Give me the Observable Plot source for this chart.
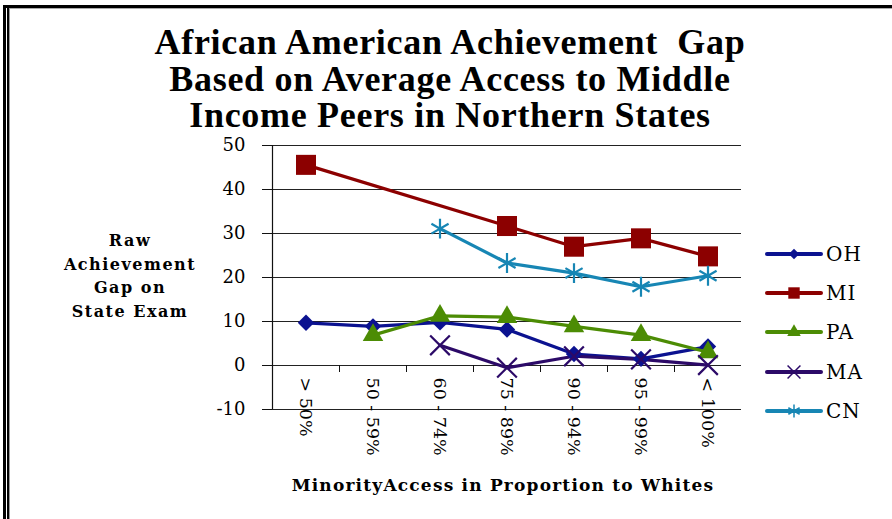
<!DOCTYPE html>
<html><head><meta charset="utf-8">
<script src="https://cdn.jsdelivr.net/npm/d3@7"></script>
<script src="https://cdn.jsdelivr.net/npm/@observablehq/plot@0.6"></script>
<style>
html,body{margin:0;padding:0;background:#fff;}
#wrap{position:relative;width:892px;height:519px;overflow:hidden;background:#fff;}
#wrap > svg{position:absolute;left:0;top:0;}
.b1{position:absolute;left:3px;top:5px;right:0;bottom:0;border-left:3px solid #000;border-top:3px solid #000;}
.b2{position:absolute;left:7px;top:8px;right:0;bottom:0;border-left:2px solid #000;}
.b3{position:absolute;left:9px;top:8px;right:0;bottom:0;border-left:1px solid #999;border-top:1px solid #aaa;}
#title{position:absolute;left:0;width:900px;top:24px;text-align:center;font-family:"Liberation Serif",serif;font-weight:bold;font-size:36px;line-height:36.5px;letter-spacing:0.7px;color:#000;}
#ylab{position:absolute;left:30px;width:200px;top:229px;text-align:center;font-family:"DejaVu Serif",serif;font-weight:bold;font-size:16px;line-height:23.5px;color:#000;letter-spacing:1.5px;}
#xlab{position:absolute;left:203px;width:600px;top:473px;text-align:center;font-family:"DejaVu Serif",serif;font-weight:bold;font-size:17px;line-height:24px;color:#000;letter-spacing:1.2px;}
#legend{position:absolute;left:765px;top:242px;font-family:"DejaVu Serif",serif;font-size:20px;letter-spacing:1px;color:#000;}
#legend .row{height:39.2px;display:flex;align-items:flex-start;}
#legend svg{display:block;}
#legend span{margin-left:3px;line-height:24px;}
</style></head><body>
<div id="wrap">
  <div class="b1"></div><div class="b2"></div><div class="b3"></div>
  <div id="title">African American Achievement&nbsp; Gap<br>Based on Average Access to Middle<br>Income Peers in Northern States</div>
  <div id="ylab">Raw<br>Achievement<br>Gap on<br>State Exam</div>
  <div id="xlab">MinorityAccess in Proportion to Whites</div>
  <div id="legend"></div>
</div>
<script>
// ---- data ----
const categories = ["> 50%", "50 - 59%", "60 - 74%", "75 - 89%", "90 - 94%", "95 - 99%", "< 100%"];
const states = ["OH", "MI", "PA", "MA", "CN"];
const OH = [9.7, 8.9, 9.8, 8.2, 2.6, 1.5, 4.3];
const MI = [45.6, null, null, 31.7, 27.0, 28.9, 24.8];
const PA = [null, 6.9, 11.3, 11.0, 8.9, 6.9, 3.0];
const MA = [null, null, 4.6, -0.5, 2.1, 1.4, 0.1];
const CN = [null, null, 31.1, 23.3, 21.0, 17.9, 20.4];
const yTicks = [-10, 0, 10, 20, 30, 40, 50];

// ---- styles ----
const colors = ["#0b1290", "#8c0000", "#4c8c04", "#2c0a68", "#1786b4"];
const symbols = ["diamond2", "square", "triangle", "times", "asterisk"];
const filled = [true, true, true, false, false];
const radius = [7.4, 11.3, 7.6, 9, 9.4];

const seriesValues = [OH, MI, PA, MA, CN];
const rows = states.flatMap((s, k) =>
  seriesValues[k].map((v, i) => ({state: s, i, v})).filter(d => d.v != null));
const idx = categories.map((c, i) => i);
const bounds = idx.slice(1).map(i => i - 0.5);
const xDomain = [-0.5, categories.length - 0.5];

const marks = [
  Plot.ruleY(yTicks, {y: d => d, stroke: "#222", strokeWidth: 1}),
  Plot.ruleX([xDomain[0]], {x: d => d, stroke: "#111", strokeWidth: 1.2}),
  Plot.axisY({ticks: yTicks, tickSize: 10, tickPadding: 17, fontSize: 18, label: null, stroke: "#111",
              tickFormat: d => String(d), fontFamily: "DejaVu Serif", fill: "#000"}),
  Plot.ruleX(bounds, {x: d => d, y1: 0, y2: 0, insetBottom: -7, stroke: "#111", strokeWidth: 1}),
  Plot.text(categories, {x: (d, i) => i, y: () => 0, text: d => d, rotate: 90, textAnchor: "start",
              lineAnchor: "middle", dy: 12, fontSize: 17.5, fontFamily: "DejaVu Serif", fill: "#000"}),
  Plot.line(rows, {x: "i", y: "v", z: "state", stroke: "state", strokeWidth: 3.2, strokeLinejoin: "round"}),
];
states.forEach((s, k) => {
  const d = rows.filter(r => r.state === s);
  marks.push(Plot.dot(d, filled[k]
    ? {x: "i", y: "v", symbol: () => symbols[k], r: radius[k], fill: colors[k], stroke: "none"}
    : {x: "i", y: "v", symbol: () => symbols[k], r: radius[k], stroke: colors[k], strokeWidth: 2.2, fill: "none"}));
});

const chart = Plot.plot({
  width: 892, height: 519,
  marginLeft: 272, marginRight: 151, marginTop: 145, marginBottom: 110,
  style: {background: "transparent", fontFamily: "DejaVu Serif", color: "#000"},
  x: {type: "linear", domain: xDomain, axis: null},
  y: {domain: [-10, 50], axis: null},
  color: {domain: states, range: colors},
  symbol: {type: "identity"},
  marks
});
document.getElementById("wrap").appendChild(chart);

// ---- legend ----
const leg = d3.select("#legend");
const symMap = {diamond2: d3.symbolDiamond2, square: d3.symbolSquare, triangle: d3.symbolTriangle,
                times: d3.symbolTimes, asterisk: d3.symbolAsterisk};
const legendSize = [70, 130, 80, 110, 120];
states.forEach((s, k) => {
  const row = leg.append("div").attr("class", "row");
  const svg = row.append("svg").attr("width", 58).attr("height", 24);
  svg.append("line").attr("x1", 2).attr("x2", 56).attr("y1", 12).attr("y2", 12)
    .attr("stroke", colors[k]).attr("stroke-width", 4).attr("stroke-linecap", "round");
  const p = svg.append("path").attr("transform", "translate(29,12)")
    .attr("d", d3.symbol(symMap[symbols[k]], legendSize[k])());
  if (filled[k]) p.attr("fill", colors[k]); else p.attr("fill", "none").attr("stroke", colors[k]).attr("stroke-width", 1.5);
  row.append("span").text(s);
});
</script>
</body></html>
